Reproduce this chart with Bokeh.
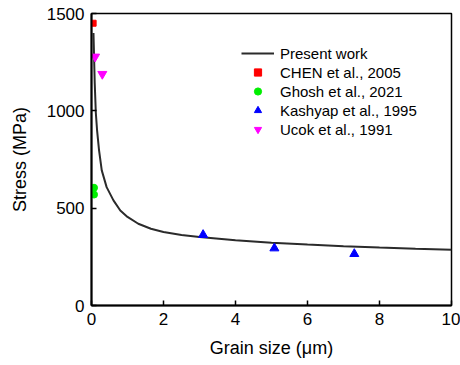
from bokeh.plotting import figure
from bokeh.models import Range1d, FixedTicker, Legend, LegendItem
from bokeh.embed import file_html
from bokeh.resources import INLINE

# Present work curve
curve_d = [0.055, 0.09, 0.12, 0.155, 0.21, 0.285, 0.42, 0.61, 0.8, 1.0, 1.3, 1.65,
           2.0, 2.5, 3.0, 4.0, 5.0, 6.0, 7.0, 8.0, 9.0, 10.0]
curve_s = [1400, 1140, 990, 900, 797, 694, 608, 540, 488, 455, 420, 394,
           378, 362, 352, 335, 322, 313, 305, 298, 292, 287]

chen_d = [0.045]
chen_s = [1450]
ghosh_d = [0.07, 0.07]
ghosh_s = [605, 570]
kashyap_d = [3.1, 5.08, 7.3]
kashyap_s = [363, 294, 265]
ucok_d = [0.1, 0.3]
ucok_s = [1278, 1189]

x_ticks = [0, 2, 4, 6, 8, 10]
y_ticks = [0, 500, 1000, 1500]

FONT = "Liberation Sans"

p = figure(width=460, height=365, output_backend="svg", toolbar_location=None,
           x_range=Range1d(0, 10), y_range=Range1d(0, 1500),
           min_border_left=91, min_border_right=9, min_border_top=13, min_border_bottom=60)
p.background_fill_color = "white"
p.border_fill_color = "white"
p.grid.visible = False
p.outline_line_color = "black"
p.outline_line_width = 1.5

for ax in (p.xaxis[0], p.yaxis[0]):
    ax.axis_line_color = "black"
    ax.axis_line_width = 2
    ax.major_tick_in = 5
    ax.major_tick_out = 0
    ax.major_tick_line_width = 1.5
    ax.minor_tick_line_color = None
    ax.major_label_text_font = FONT
    ax.major_label_text_font_size = "17px"
    ax.major_label_text_color = "black"
    ax.axis_label_text_font = FONT
    ax.axis_label_text_font_size = "18px"
    ax.axis_label_text_font_style = "normal"
    ax.axis_label_text_color = "black"

p.xaxis.ticker = FixedTicker(ticks=x_ticks)
p.yaxis.ticker = FixedTicker(ticks=y_ticks)
p.xaxis.axis_label = "Grain size (μm)"
p.yaxis.axis_label = "Stress (MPa)"
p.xaxis.major_label_standoff = 7
p.yaxis.major_label_standoff = 7
p.xaxis.axis_label_standoff = 10
p.yaxis.axis_label_standoff = 14

r_line = p.line(curve_d, curve_s, line_color="#2b2b2b", line_width=2)
r_chen = p.scatter(chen_d, chen_s, marker="square", size=6, fill_color="#ff0000", line_color="#ff0000")
r_ghosh = p.scatter(ghosh_d, ghosh_s, marker="circle", size=7, fill_color="#00ee00", line_color="#00ee00")
r_kash = p.scatter(kashyap_d, kashyap_s, marker="triangle", size=9, fill_color="#0000ff", line_color="#0000ff")
r_ucok = p.scatter(ucok_d, ucok_s, marker="inverted_triangle", size=9, fill_color="#ff00ff", line_color="#ff00ff")

legend = Legend(items=[
    LegendItem(label="Present work", renderers=[r_line]),
    LegendItem(label="CHEN et al., 2005", renderers=[r_chen]),
    LegendItem(label="Ghosh et al., 2021", renderers=[r_ghosh]),
    LegendItem(label="Kashyap et al., 1995", renderers=[r_kash]),
    LegendItem(label="Ucok et al., 1991", renderers=[r_ucok]),
], location=(150, 167))
legend.border_line_color = None
legend.background_fill_alpha = 0
legend.padding = 0
legend.margin = 0
legend.spacing = 1
legend.glyph_width = 33
legend.glyph_height = 18
legend.label_height = 18
legend.label_standoff = 6
legend.label_text_font = FONT
legend.label_text_font_size = "15px"
legend.label_text_color = "black"
p.add_layout(legend, "center")

open("out.html", "w").write(file_html(p, INLINE))
